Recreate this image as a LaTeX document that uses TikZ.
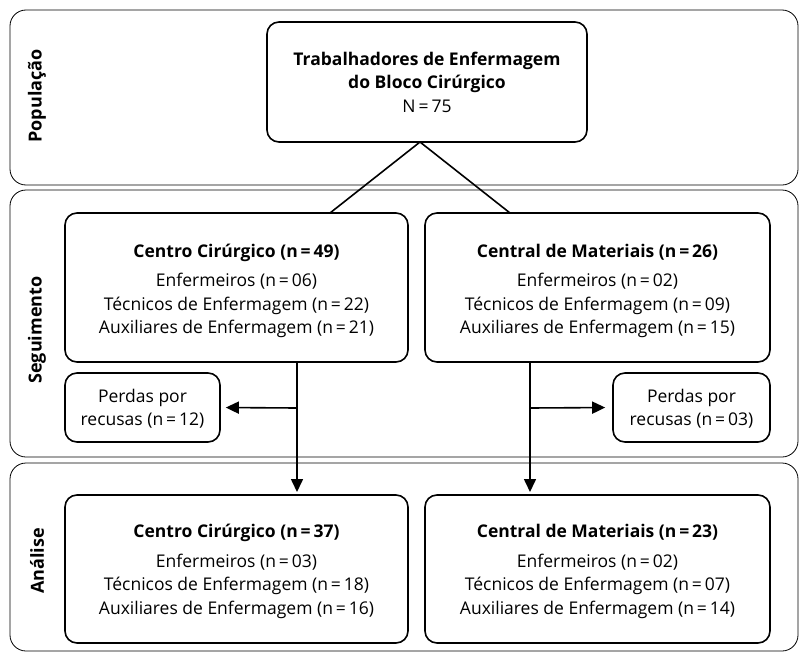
\documentclass[tikz,border=0pt]{standalone}
\usepackage{fontspec}
\setmainfont{Open Sans}
\usetikzlibrary{arrows.meta}
\begin{document}
\begin{tikzpicture}[x=1pt,y=-1pt,
  band/.style={draw, line width=0.8pt, rounded corners=16pt},
  box/.style={draw, line width=1.6pt, rounded corners=12pt, inner sep=0pt},
  txt/.style={align=center, font=\fontsize{17.5}{23.5}\selectfont, inner sep=0pt},
  bandlabel/.style={rotate=90, font=\fontsize{18}{20}\selectfont\bfseries},
  conn/.style={line width=1.6pt},
  arr/.style={line width=1.6pt, -{Triangle[length=13pt,width=12pt]}}]
\useasboundingbox (0,0) rectangle (800,653);
% bands
\draw[band] (10,10) rectangle (798,185);
\draw[band] (10,190) rectangle (798,457);
\draw[band] (10,463) rectangle (798,651);
\node[bandlabel] (lp) at (37,96) {População};
\node[bandlabel] (ls) at (37,330) {Seguimento};
\node[bandlabel] (la) at (37,561) {Análise};
% top box
\node[box, minimum width=320pt, minimum height=120pt] (top) at (427,82) {};
\node[txt] (ttop) at (427,82)
  {\textbf{Trabalhadores de Enfermagem}\\\textbf{do Bloco Cirúrgico}\\N\,=\,75};
% seguimento boxes
\node[box, minimum width=343pt, minimum height=149pt] (cc1) at (236.5,287.5) {};
\node[txt] (tcc1) at (236.5,291)
  {\textbf{Centro Cirúrgico (n\,=\,49)}\\[6pt]Enfermeiros (n\,=\,06)\\Técnicos de Enfermagem (n\,=\,22)\\Auxiliares de Enfermagem (n\,=\,21)};
\node[box, minimum width=345pt, minimum height=149pt] (cm1) at (597.5,287.5) {};
\node[txt] (tcm1) at (597.5,291)
  {\textbf{Central de Materiais (n\,=\,26)}\\[6pt]Enfermeiros (n\,=\,02)\\Técnicos de Enfermagem (n\,=\,09)\\Auxiliares de Enfermagem (n\,=\,15)};
\node[box, minimum width=155pt, minimum height=69pt] (pl) at (142.5,407.5) {};
\node[txt] (tpl) at (142.5,408.5) {Perdas por\\recusas (n\,=\,12)};
\node[box, minimum width=157pt, minimum height=69pt] (pr) at (691.5,407.5) {};
\node[txt] (tpr) at (691.5,408.5) {Perdas por\\recusas (n\,=\,03)};
% analise boxes
\node[box, minimum width=343pt, minimum height=148pt] (cc2) at (236.5,569) {};
\node[txt] (tcc2) at (236.5,571.5)
  {\textbf{Centro Cirúrgico (n\,=\,37)}\\[6pt]Enfermeiros (n\,=\,03)\\Técnicos de Enfermagem (n\,=\,18)\\Auxiliares de Enfermagem (n\,=\,16)};
\node[box, minimum width=345pt, minimum height=148pt] (cm2) at (597.5,569) {};
\node[txt] (tcm2) at (597.5,571.5)
  {\textbf{Central de Materiais (n\,=\,23)}\\[6pt]Enfermeiros (n\,=\,02)\\Técnicos de Enfermagem (n\,=\,07)\\Auxiliares de Enfermagem (n\,=\,14)};
% connectors
\coordinate (apex) at (420,142);
\draw[conn] (apex) -- (330,213);
\draw[conn] (apex) -- (510,213);
\coordinate (jl) at (297,408);
\coordinate (jr) at (530,408);
\draw[arr, shorten >=3pt] (297,362) -- (297,495);
\draw[arr, shorten >=3pt] (530,362) -- (530,495);
\draw[arr, shorten >=5pt] (jl) -- (pl.east);
\draw[arr, shorten >=7pt] (jr) -- (pr.west);
\end{tikzpicture}
\end{document}
